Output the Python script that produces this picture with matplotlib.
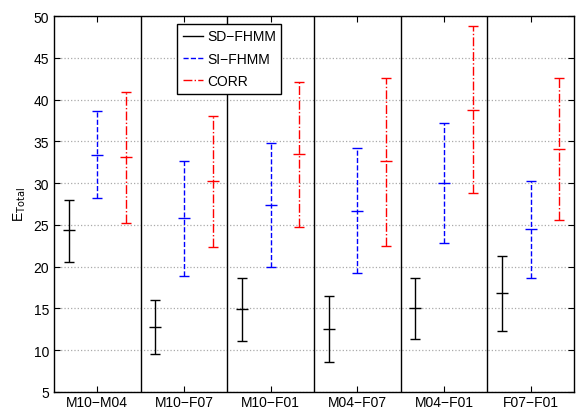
import numpy as np
import matplotlib
matplotlib.use("Agg")
import matplotlib.pyplot as plt
from matplotlib.lines import Line2D

plt.rcParams['font.family'] = ['Liberation Sans', 'DejaVu Sans']

# pair labels
pairs = ['M10\u2212M04', 'M10\u2212F07', 'M10\u2212F01', 'M04\u2212F07', 'M04\u2212F01', 'F07\u2212F01']

# (low, mid, high) per method
sd_low = [20.6, 9.55, 11.1, 8.6, 11.35, 12.3]
sd_mid = [24.35, 12.75, 14.95, 12.55, 15.0, 16.8]
sd_high = [28.0, 15.95, 18.7, 16.5, 18.7, 21.3]

si_low = [28.2, 18.9, 19.95, 19.2, 22.8, 18.7]
si_mid = [33.4, 25.8, 27.35, 26.7, 30.05, 24.45]
si_high = [38.65, 32.7, 34.8, 34.15, 37.2, 30.25]

corr_low = [25.2, 22.4, 24.8, 22.5, 28.85, 25.55]
corr_mid = [33.1, 30.2, 33.45, 32.6, 38.8, 34.05]
corr_high = [40.95, 38.0, 42.1, 42.6, 48.75, 42.55]

methods = [
    ('SD\u2212FHMM', sd_low, sd_mid, sd_high, 'black', '-', -0.33),
    ('SI\u2212FHMM', si_low, si_mid, si_high, 'blue', '--', 0.0),
    ('CORR', corr_low, corr_mid, corr_high, 'red', '-.', 0.33),
]

fig = plt.figure(figsize=(5.79, 4.10), dpi=100)
ax = fig.add_axes([0.0933, 0.0415, 0.8981, 0.917])

x = np.arange(1, len(pairs) + 1)
handles = []
for name, lo, mid, hi, col, ls, off in methods:
    lo = np.array(lo); mid = np.array(mid); hi = np.array(hi)
    eb = ax.errorbar(x + off, mid, yerr=[mid - lo, hi - mid], fmt='_', color=col,
                     ecolor=col, markersize=8, markeredgewidth=1.0,
                     capsize=3.8, capthick=1.0, elinewidth=1.0, zorder=3)
    eb[2][0].set_linestyle(ls)
    handles.append(Line2D([], [], color=col, linestyle=ls, lw=1.0, label=name))

# group separators
for sep in x[:-1] + 0.5:
    ax.axvline(sep, color='black', lw=1.0, zorder=2)

ax.set_xlim(0.5, len(pairs) + 0.5)
ax.set_ylim(5, 50)
ax.set_xticks(x)
ax.set_xticklabels(pairs)
ax.set_yticks(np.arange(5, 51, 5))
ax.yaxis.grid(True, linestyle=':', color='#aaaaaa', lw=0.9)
ax.tick_params(direction='in', top=True, right=True, labelsize=10, length=4)
ax.tick_params(axis='x', pad=2)
ax.set_ylabel('E$_{\\mathrm{Total}}$', fontsize=10, labelpad=4)
for s in ax.spines.values():
    s.set_linewidth(1.0)

leg = ax.legend(handles=handles, loc='upper left', bbox_to_anchor=(0.2365, 0.979),
                borderaxespad=0, fontsize=10, frameon=True, fancybox=False, framealpha=1,
                edgecolor='black', handlelength=1.5, handletextpad=0.25,
                borderpad=0.4, labelspacing=0.6)
leg.get_frame().set_linewidth(1.0)

fig.savefig('out.png', dpi=100)
